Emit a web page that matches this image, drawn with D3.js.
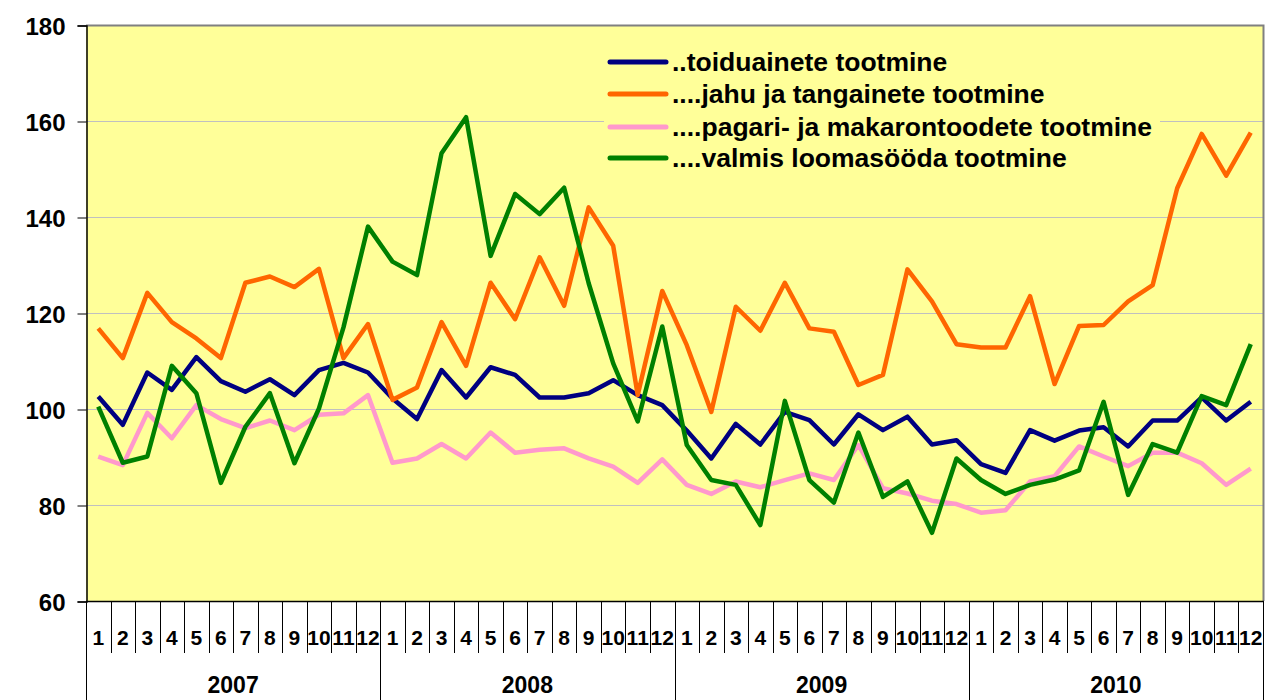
<!DOCTYPE html>
<html>
<head>
<meta charset="utf-8">
<script src="https://cdn.jsdelivr.net/npm/d3@7"></script>
<style>
    body { margin: 0; background: #ffffff; }
    text { font-family: "Liberation Sans", Arial, sans-serif; font-weight: bold; fill: #000; }
</style>
</head>
<body>
<script>
(function(){

    //chart data, 48 months 2007-2010
    var years = ["2007", "2008", "2009", "2010"];
    var monthLabels = ["1","2","3","4","5","6","7","8","9","10","11","12"];
    var yTicks = [60, 80, 100, 120, 140, 160, 180];

    var seriesNames = ["..toiduainete tootmine", "....jahu ja tangainete tootmine",
                       "....pagari- ja makarontoodete tootmine", "....valmis loomasööda tootmine"];
    var seriesColors = ["#000080", "#ff6600", "#ff99cc", "#008000"];

    var toiduainete = [102.6, 96.7, 107.6, 104, 110.8, 105.8, 103.6, 106.2, 102.9, 108.1, 109.6, 107.6,
                       102.2, 97.9, 108.1, 102.4, 108.7, 107.1, 102.4, 102.4, 103.3, 106, 102.9, 100.8,
                       95.5, 89.7, 96.9, 92.6, 99.4, 97.7, 92.6, 98.9, 95.6, 98.4, 92.6, 93.5,
                       88.5, 86.7, 95.6, 93.4, 95.5, 96.2, 92.2, 97.6, 97.6, 102.4, 97.6, 101.5];
    var jahu = [116.8, 110.6, 124.2, 118.1, 114.7, 110.6, 126.3, 127.6, 125.4, 129.2, 110.6, 117.7,
                101.9, 104.5, 118.1, 109, 126.3, 118.7, 131.6, 121.5, 142, 134, 102.9, 124.6,
                113.3, 99.4, 121.3, 116.3, 126.3, 116.8, 116.1, 105, 107.1, 129.1, 122.4, 113.5,
                112.8, 112.8, 123.5, 105.2, 117.3, 117.5, 122.4, 125.8, 146, 157.3, 148.6, 157.6];
    var pagari = [90.1, 88.3, 99.2, 93.9, 100.8, 97.9, 96, 97.6, 95.6, 98.8, 99.1, 102.9,
                  88.8, 89.7, 92.7, 89.7, 95.1, 90.9, 91.5, 91.8, 89.7, 88, 84.6, 89.5,
                  84.2, 82.3, 84.9, 83.7, 85.2, 86.6, 85.2, 92.5, 83.5, 82.4, 80.9, 80.2,
                  78.4, 78.9, 84.9, 86, 92.2, 90.1, 88.1, 90.9, 90.9, 88.7, 84.2, 87.6];
    var loomasoot = [100.5, 88.8, 90.1, 109, 103.3, 84.6, 96.3, 103.3, 88.7, 100.1, 117, 138,
                     130.7, 127.9, 153.3, 160.8, 131.9, 144.8, 140.6, 146.1, 126.2, 109.5, 97.4, 117.2,
                     92.5, 85.2, 84.2, 75.8, 101.7, 85.2, 80.5, 95.1, 81.7, 84.9, 74.2, 89.7,
                     85.2, 82.3, 84.2, 85.3, 87.2, 101.5, 82.1, 92.7, 90.9, 102.7, 100.8, 113.5];

    var allSeries = [toiduainete, jahu, pagari, loomasoot];

    //frame
    var width = 1275,
        height = 700,
        left = 86,
        right = 1263,
        top = 25,
        bottom = 601;

    var svg = d3.select("body")
        .append("svg")
        .attr("width", width)
        .attr("height", height);

    //one slot per month
    var slots = d3.range(years.length * 12);

    var x = d3.scaleBand()
        .domain(slots)
        .range([left, right]);

    var y = d3.scaleLinear()
        .domain([60, 180])
        .range([bottom, top]);

    //plot background
    svg.append("rect")
        .attr("x", left)
        .attr("y", top)
        .attr("width", right - left)
        .attr("height", bottom - top)
        .attr("fill", "#ffff99");

    //gridlines
    svg.append("g")
        .selectAll("line")
        .data(yTicks.filter(function(d){ return d > 60 && d < 180; }))
        .enter()
        .append("line")
        .attr("x1", left)
        .attr("x2", right)
        .attr("y1", function(d){ return y(d) + 0.5; })
        .attr("y2", function(d){ return y(d) + 0.5; })
        .attr("stroke", "#c0c0c0")
        .attr("stroke-width", 1);

    //legend background hides gridline behind it
    var legend = svg.append("g");
    legend.append("rect")
        .attr("x", 604)
        .attr("y", 40)
        .attr("width", 556)
        .attr("height", 134)
        .attr("fill", "#ffff99");

    //plot frame (top and right grey)
    svg.append("path")
        .attr("d", "M" + left + "," + (top + 0.5) + "H" + (right + 0.5) + "V" + bottom)
        .attr("fill", "none")
        .attr("stroke", "#808080")
        .attr("stroke-width", 2);

    //y axis
    var yAxis = d3.axisLeft(y)
        .tickValues(yTicks)
        .tickSize(9)
        .tickPadding(12)
        .tickFormat(d3.format("d"));

    var yg = svg.append("g")
        .attr("transform", "translate(" + (left + 0.5) + ",0.5)")
        .call(yAxis);
    yg.select(".domain").attr("stroke", "#000").attr("stroke-width", 1.5);
    yg.selectAll(".tick line").attr("stroke", "#000");
    yg.selectAll(".tick text")
        .attr("font-size", 24)
        .attr("font-family", "Liberation Sans, Arial, sans-serif")
        .attr("font-weight", "bold")
        .attr("dy", "0.36em");

    //x axis line
    svg.append("line")
        .attr("x1", left)
        .attr("x2", right + 1)
        .attr("y1", bottom + 0.5)
        .attr("y2", bottom + 0.5)
        .attr("stroke", "#000")
        .attr("stroke-width", 1.5);

    //month separators
    var xg = svg.append("g");
    xg.selectAll(".sep")
        .data(slots.concat([slots.length]))
        .enter()
        .append("line")
        .attr("class", "sep")
        .attr("x1", function(d){ return Math.round(left + d * x.bandwidth()) + 0.5; })
        .attr("x2", function(d){ return Math.round(left + d * x.bandwidth()) + 0.5; })
        .attr("y1", bottom)
        .attr("y2", function(d){ return d % 12 === 0 ? height : 653; })
        .attr("stroke", "#000")
        .attr("stroke-width", 1);

    //month labels
    xg.selectAll(".month")
        .data(slots)
        .enter()
        .append("text")
        .attr("class", "month")
        .attr("x", function(d){ return x(d) + x.bandwidth() / 2; })
        .attr("y", 645)
        .attr("text-anchor", "middle")
        .attr("font-size", 21)
        .text(function(d){ return monthLabels[d % 12]; });

    //year labels
    xg.selectAll(".year")
        .data(years)
        .enter()
        .append("text")
        .attr("class", "year")
        .attr("x", function(d, i){ return left + (i * 12 + 6) * x.bandwidth(); })
        .attr("y", 693)
        .attr("text-anchor", "middle")
        .attr("font-size", 23)
        .text(function(d){ return d; });

    //series lines
    var line = d3.line()
        .x(function(d, i){ return x(i) + x.bandwidth() / 2; })
        .y(function(d){ return y(d); });

    svg.append("g")
        .selectAll("path")
        .data(allSeries)
        .enter()
        .append("path")
        .attr("d", line)
        .attr("fill", "none")
        .attr("stroke", function(d, i){ return seriesColors[i]; })
        .attr("stroke-width", 4.5)
        .attr("stroke-linejoin", "round");

    //legend entries
    var rows = legend.selectAll(".row")
        .data(seriesNames)
        .enter()
        .append("g")
        .attr("class", "row")
        .attr("transform", function(d, i){ return "translate(0," + [62, 94, 127, 158][i] + ")"; });

    rows.append("line")
        .attr("x1", 610)
        .attr("x2", 666)
        .attr("stroke", function(d, i){ return seriesColors[i]; })
        .attr("stroke-width", 5)
        .attr("stroke-linecap", "round");

    rows.append("text")
        .attr("x", 672)
        .attr("y", 9)
        .attr("font-size", 26.5)
        .text(function(d){ return d; });

})();
</script>
</body>
</html>
